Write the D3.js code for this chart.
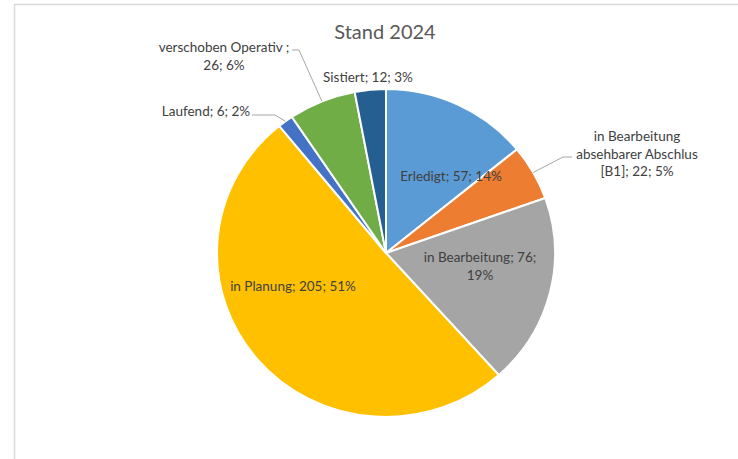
<!DOCTYPE html>
<html>
<head>
<meta charset="utf-8">
<script src="https://cdn.jsdelivr.net/npm/d3@7"></script>
<style>
  body { margin: 0; background: #fff; }
  svg { display: block; }
</style>
</head>
<body>
<div class="chart"></div>
<script>
// pie data, Stand 2024
const categories = ["Erledigt", "in Bearbeitung absehbarer Abschlus [B1]", "in Bearbeitung", "in Planung", "Laufend", "verschoben Operativ ", "Sistiert"];
const values = [57, 22, 76, 205, 6, 26, 12];
const percents = ["14%", "5%", "19%", "51%", "2%", "6%", "3%"];
const colors = ["#5B9BD5", "#ED7D31", "#A5A5A5", "#FFC000", "#4472C4", "#70AD47", "#255E91"];
// how each label is broken into lines
const labelLines = [
    ["Erledigt; 57; 14%"],
    ["in Bearbeitung", "absehbarer Abschlus", "[B1]; 22; 5%"],
    ["in Bearbeitung; 76;", "19%"],
    ["in Planung; 205; 51%"],
    ["Laufend; 6; 2%"],
    ["verschoben Operativ ;", "26; 6%"],
    ["Sistiert; 12; 3%"]
];

const width = 738;
const height = 459;
const cx = 386, cy = 253, radius = 169, squash = 0.97;

const svg = d3.select('.chart')
    .append('svg')
    .attr('width', width)
    .attr('height', height);

// chart frame (cut off at right and bottom)
svg.append('path')
    .attr('d', 'M14.5,' + height + 'V4.5H' + width)
    .attr('fill', 'none')
    .attr('stroke', '#d9d9d9')
    .attr('stroke-width', 1.5);

svg.append('text')
    .text('Stand 2024')
    .attr('x', 385)
    .attr('y', 39)
    .attr('text-anchor', 'middle')
    .attr('font-family', 'Lato, "Open Sans", sans-serif')
    .attr('font-size', 20)
    .attr('fill', '#595959');

const pie = d3.pie().sort(null).value(d => d)(values);
const arc = d3.arc().innerRadius(0).outerRadius(radius);

const g = svg.append('g')
    .attr('transform', `translate(${cx},${cy}) scale(1,${squash})`);

g.selectAll('path')
    .data(pie)
    .enter()
    .append('path')
    .attr('d', arc)
    .attr('fill', (d, i) => colors[i])
    .attr('stroke', '#fff')
    .attr('stroke-width', 2)
    .attr('vector-effect', 'non-scaling-stroke');

// point on the outer edge at the middle of a slice, in page coordinates
function edgePoint(d) {
    const a = (d.startAngle + d.endAngle) / 2;
    return [cx + radius * Math.sin(a), cy - radius * squash * Math.cos(a)];
}

// label anchors (text centre of first line) and leader bends
const labelSpots = [
    {x: 451, y: 181},
    {x: 637, y: 141, bend: [[563, 157], [572, 157]]},
    {x: 480, y: 262},
    {x: 293, y: 291},
    {x: 206, y: 116, bend: [[275, 115], [252, 115]]},
    {x: 224, y: 52, bend: [[299, 50], [292, 50]]},
    {x: 368, y: 82}
];

pie.forEach((d, i) => {
    const spot = labelSpots[i];
    if (spot.bend) {
        const pts = [edgePoint(d)].concat(spot.bend);
        svg.append('path')
            .attr('d', d3.line()(pts))
            .attr('fill', 'none')
            .attr('stroke', '#a6a6a6')
            .attr('stroke-width', 1);
    }
    const t = svg.append('text')
        .attr('text-anchor', 'middle')
        .attr('font-family', 'Lato, "Open Sans", sans-serif')
        .attr('font-size', 13.5)
        .attr('fill', '#404040');
    labelLines[i].forEach((line, j) => {
        t.append('tspan')
            .attr('x', spot.x)
            .attr('y', spot.y + j * 17.5)
            .text(line);
    });
});
</script>
</body>
</html>
